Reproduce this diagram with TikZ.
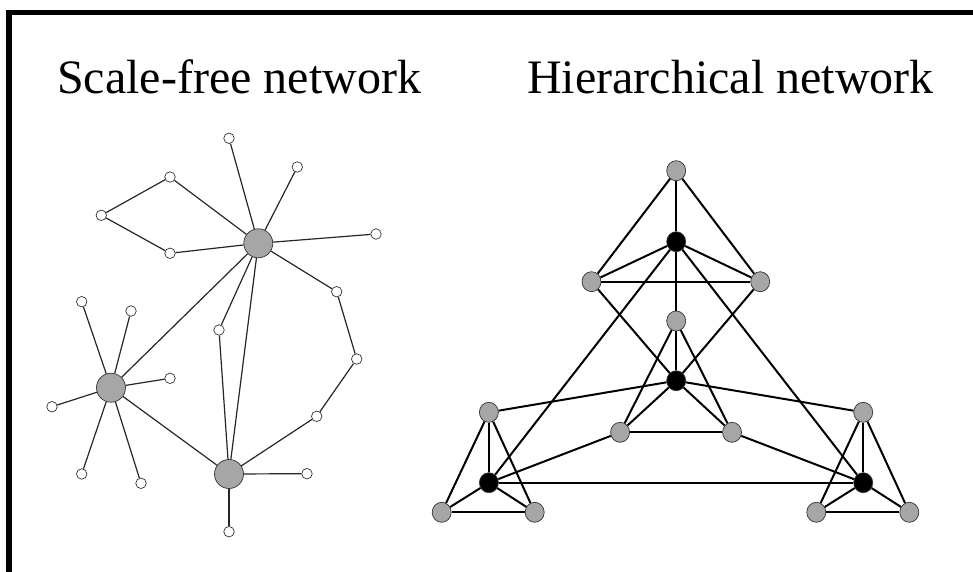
\documentclass[tikz,border=0pt]{standalone}
\usepackage{fontspec}
\setmainfont{Liberation Serif}
\usetikzlibrary{shapes.geometric}
\definecolor{hubgray}{HTML}{A6A6A6}
\begin{document}
\begin{tikzpicture}[x=1pt,y=-1pt,
  hub/.style={circle,draw=black!80,line width=0.7pt,fill=hubgray,minimum size=29pt,inner sep=0pt},
  leaf/.style={circle,draw=black!80,line width=0.7pt,fill=white,minimum size=10.5pt,inner sep=0pt},
  sfedge/.style={line width=1.2pt,draw=black!85},
  gnode/.style={ellipse,draw=black!80,line width=0.7pt,fill=hubgray,minimum width=19pt,minimum height=20pt,inner sep=0pt},
  bnode/.style={gnode,fill=black},
  hedge/.style={line width=2pt,draw=black},
  title/.style={anchor=base west,inner sep=0pt,font=\fontsize{48}{56}\selectfont}
]
\useasboundingbox (0,0) rectangle (973,572);
\fill (6,10) rectangle (12,572);
\fill (6,10) rectangle (973,15);

\node[title] (t1) at (57,94) {Scale-free network};
\node[title] (t2) at (527,94) {Hierarchical network};

% ---------- scale-free network ----------
\node[hub] (A) at (258.3,243.3) {};
\node[hub] (B) at (111,387.7) {};
\node[hub] (C) at (229,474) {};
\node[leaf] (a1) at (229,138.3) {};
\node[leaf] (a2) at (297.3,167) {};
\node[leaf] (a3) at (170,177) {};
\node[leaf] (a4) at (101.3,215.3) {};
\node[leaf] (a5) at (170,253.3) {};
\node[leaf] (a6) at (376,234) {};
\node[leaf] (a7) at (336.7,291.7) {};
\node[leaf] (a8) at (219,330) {};
\node[leaf] (a9) at (356.7,359) {};
\node[leaf] (a10) at (316.7,416.3) {};
\node[leaf] (c1) at (307,473.7) {};
\node[leaf] (c2) at (229,531.7) {};
\node[leaf] (b1) at (81.7,301.7) {};
\node[leaf] (b2) at (131,311) {};
\node[leaf] (b3) at (170,378.3) {};
\node[leaf] (b4) at (52,406.7) {};
\node[leaf] (b5) at (81.7,474) {};
\node[leaf] (b6) at (141,483.3) {};

\foreach \u/\v in {A/a1,A/a2,A/a3,a3/a4,a4/a5,a5/A,A/a6,A/a7,a7/a9,a9/a10,a10/C,A/a8,a8/C,A/C,A/B,B/C,
  B/b1,B/b2,B/b3,B/b4,B/b5,B/b6,C/c1,C/c2}
  \draw[sfedge] (\u) -- (\v);

% ---------- hierarchical network ----------
\node[gnode] (T) at (676.2,170.7) {};
\node[bnode] (K1) at (676.2,241.7) {};
\node[gnode] (L1) at (591.5,281.7) {};
\node[gnode] (R1) at (760.2,281.7) {};
\node[gnode] (M) at (676.2,321) {};
\node[bnode] (K0) at (676.2,380.7) {};
\node[gnode] (P) at (620.1,432.3) {};
\node[gnode] (Q) at (732,432.3) {};
\node[gnode] (LL) at (488.9,412.3) {};
\node[bnode] (KL) at (488.9,482.7) {};
\node[gnode] (BL1) at (441.7,512.3) {};
\node[gnode] (BL2) at (534.7,512.3) {};
\node[gnode] (RR) at (863.2,412.3) {};
\node[bnode] (KR) at (863.2,482.7) {};
\node[gnode] (BR1) at (816.3,512.3) {};
\node[gnode] (BR2) at (909.3,512.3) {};

\foreach \u/\v in {T/K1,T/L1,T/R1,K1/L1,K1/R1,L1/R1,L1/K0,R1/K0,K1/M,K1/KL,K1/KR,
  M/K0,M/P,M/Q,K0/P,K0/Q,P/Q,K0/LL,K0/RR,P/KL,Q/KR,KL/KR,
  LL/KL,LL/BL1,LL/BL2,KL/BL1,KL/BL2,BL1/BL2,
  RR/KR,RR/BR1,RR/BR2,KR/BR1,KR/BR2,BR1/BR2}
  \draw[hedge] (\u) -- (\v);
\end{tikzpicture}
\end{document}
